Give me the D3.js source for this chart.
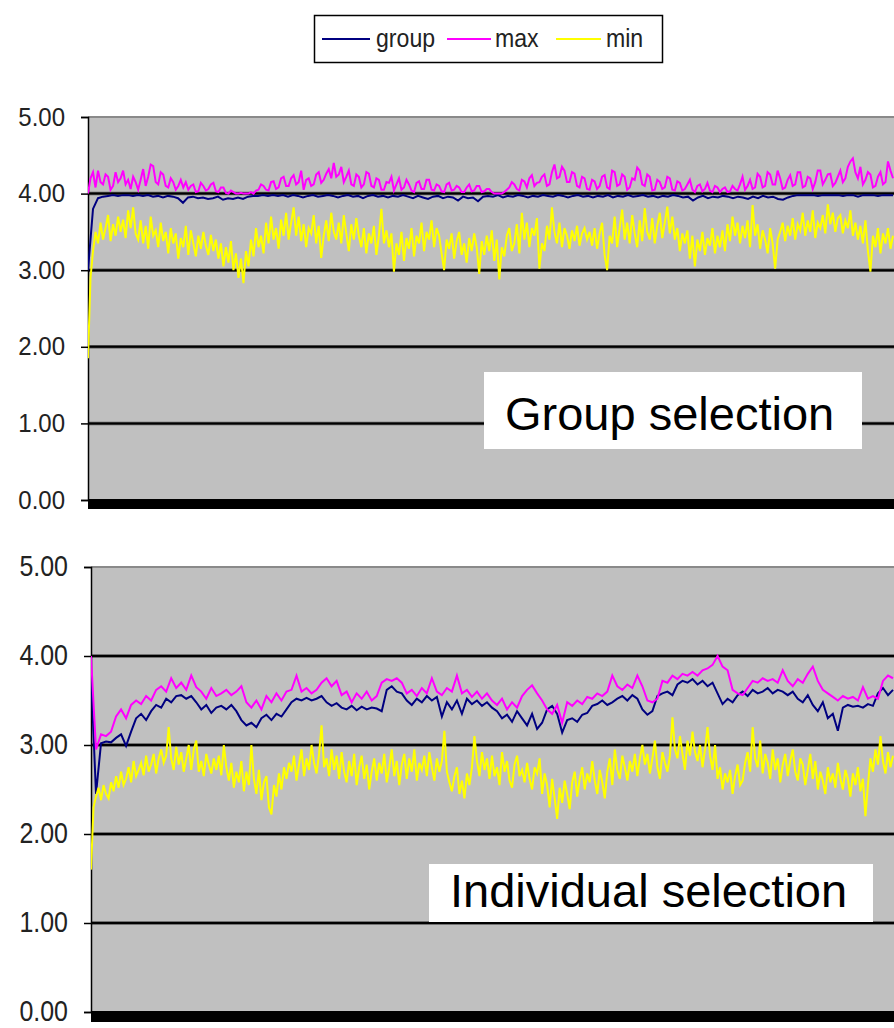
<!DOCTYPE html>
<html><head><meta charset="utf-8">
<script src="https://cdn.jsdelivr.net/npm/d3@7"></script>
<style>body{margin:0;background:#fff}svg{display:block}text{font-family:"Liberation Sans",Arial,sans-serif}</style>
</head><body><svg id="c" width="894" height="1028"></svg>
<script>
// ---- data ----
const seriesNames = ["group","max","min"];
const yTicks = [0,1,2,3,4,5];
const panelLabels = ["Group selection","Individual selection"];

const groupTop = [3.00,3.80,3.94,3.96,3.97,3.98,3.97,3.98,3.98,3.97,
3.98,3.97,3.98,3.96,3.97,3.95,3.97,3.96,3.94,3.88,
3.95,3.96,3.94,3.95,3.93,3.94,3.96,3.92,3.94,3.93,
3.95,3.93,3.96,3.97,3.97,3.98,3.97,3.98,3.97,3.98,
3.96,3.98,3.97,3.95,3.97,3.98,3.96,3.97,3.98,3.97,
3.95,3.97,3.98,3.96,3.97,3.94,3.97,3.98,3.96,3.97,
3.95,3.97,3.96,3.98,3.96,3.94,3.97,3.95,3.93,3.96,
3.97,3.94,3.96,3.95,3.91,3.96,3.94,3.95,3.90,3.96,
3.97,3.96,3.98,3.95,3.97,3.96,3.98,3.97,3.95,3.97,
3.96,3.98,3.97,3.96,3.98,3.97,3.95,3.97,3.98,3.96,
3.97,3.95,3.97,3.96,3.98,3.95,3.97,3.96,3.98,3.96,
3.97,3.98,3.96,3.97,3.95,3.97,3.96,3.98,3.97,3.95,
3.96,3.91,3.95,3.97,3.94,3.96,3.95,3.97,3.96,3.94,
3.96,3.95,3.93,3.96,3.94,3.97,3.95,3.96,3.93,3.92,
3.95,3.97,3.98,3.98,3.98,3.98,3.97,3.98,3.98,3.98,
3.98,3.97,3.98,3.98,3.96,3.98,3.98,3.98,3.97,3.98,3.98,3.98];

const maxTop = [4.00,4.20,4.28,4.08,4.30,4.15,4.12,4.25,4.22,4.05,4.10,4.28,4.15,4.20,4.30,4.12,4.18,4.06,4.22,4.15,
4.05,4.18,4.32,4.10,4.22,4.38,4.36,4.15,4.12,4.28,4.25,4.10,4.08,4.20,4.15,4.05,4.10,4.18,4.08,4.15,
4.05,4.10,4.12,4.02,4.03,4.14,4.10,4.04,4.06,4.12,4.14,4.03,4.02,4.08,4.08,4.01,4.00,4.04,4.02,4.00,
4.00,4.01,4.00,4.00,4.00,4.02,4.00,4.04,4.05,4.12,4.10,4.05,4.04,4.15,4.16,4.06,4.08,4.20,4.22,4.10,
4.10,4.20,4.24,4.12,4.15,4.30,4.05,4.18,4.20,4.10,4.12,4.25,4.28,4.14,4.18,4.26,4.32,4.20,4.40,4.22,
4.25,4.35,4.15,4.22,4.30,4.12,4.10,4.25,4.22,4.08,4.12,4.28,4.26,4.10,4.08,4.20,4.18,4.05,4.05,4.15,
4.14,4.22,4.04,4.12,4.20,4.05,4.08,4.18,4.12,4.04,4.02,4.14,4.16,4.06,4.06,4.18,4.18,4.05,4.04,4.12,
4.10,4.03,4.02,4.12,4.14,4.04,4.05,4.10,4.08,4.02,4.02,4.08,4.12,4.03,4.04,4.10,4.10,4.02,4.03,4.06,
4.06,4.02,4.00,4.00,4.00,4.00,4.02,4.05,4.08,4.15,4.12,4.06,4.04,4.18,4.16,4.08,4.20,4.24,4.10,4.14,
4.15,4.22,4.25,4.10,4.12,4.28,4.38,4.20,4.22,4.35,4.30,4.15,4.15,4.28,4.26,4.10,4.08,4.22,4.20,4.06,
4.05,4.18,4.16,4.06,4.10,4.22,4.24,4.08,4.06,4.30,4.28,4.10,4.12,4.25,4.22,4.05,4.08,4.20,4.18,4.34,
4.30,4.12,4.10,4.25,4.22,4.04,4.05,4.18,4.15,4.06,4.08,4.22,4.20,4.05,4.04,4.16,4.14,4.04,4.06,4.12,
4.18,4.05,4.02,4.10,4.12,4.03,4.06,4.14,4.04,4.02,4.10,4.08,4.02,4.06,4.08,4.02,4.03,4.10,4.06,4.04,
4.12,4.22,4.05,4.10,4.18,4.06,4.08,4.26,4.22,4.08,4.10,4.28,4.25,4.12,4.12,4.30,4.20,4.06,4.08,4.18,
4.24,4.10,4.12,4.28,4.28,4.08,4.10,4.22,4.20,4.06,4.15,4.30,4.30,4.12,4.18,4.25,4.26,4.10,4.14,4.22,
4.30,4.15,4.20,4.35,4.42,4.46,4.28,4.20,4.35,4.12,4.18,4.28,4.25,4.08,4.10,4.22,4.28,4.12,4.15,4.42,
4.30,4.20];

const minTop = [1.85,2.90,3.25,3.50,3.35,3.62,3.40,3.55,3.72,3.38,3.60,3.45,3.70,3.50,3.66,3.42,3.78,3.55,3.82,3.48,
3.40,3.65,3.35,3.58,3.28,3.70,3.45,3.52,3.30,3.62,3.38,3.50,3.22,3.55,3.35,3.48,3.15,3.42,3.30,3.58,
3.20,3.52,3.35,3.18,3.45,3.28,3.50,3.32,3.20,3.46,3.25,3.40,3.15,3.35,3.05,3.30,3.10,3.38,3.00,3.22,
2.90,3.15,2.83,3.25,3.05,3.40,3.18,3.55,3.30,3.45,3.22,3.62,3.35,3.70,3.40,3.55,3.28,3.66,3.45,3.75,
3.40,3.62,3.82,3.45,3.70,3.38,3.60,3.30,3.55,3.48,3.72,3.35,3.58,3.16,3.45,3.65,3.38,3.75,3.50,3.40,
3.62,3.35,3.72,3.48,3.25,3.60,3.40,3.68,3.45,3.30,3.55,3.22,3.48,3.35,3.58,3.20,3.45,3.80,3.35,3.52,
3.30,3.48,2.98,3.35,3.20,3.50,3.12,3.42,3.28,3.55,3.18,3.45,3.35,3.62,3.25,3.50,3.40,3.65,3.30,3.55,
3.45,3.22,3.00,3.40,3.28,3.48,3.15,3.38,3.50,3.20,3.35,3.10,3.42,3.25,3.48,3.30,2.95,3.38,3.20,3.45,
3.25,3.52,3.12,3.40,2.88,3.30,3.18,3.45,3.55,3.25,3.35,3.60,3.22,3.75,3.40,3.62,3.30,3.55,3.45,3.68,
3.02,3.35,3.25,3.58,3.40,3.82,3.50,3.35,3.62,3.30,3.55,3.45,3.28,3.52,3.38,3.58,3.32,3.48,3.55,3.40,
3.50,3.32,3.55,3.28,3.48,3.62,3.20,3.00,3.45,3.35,3.70,3.30,3.55,3.79,3.40,3.62,3.35,3.72,3.48,3.30,
3.65,3.38,3.81,3.50,3.40,3.68,3.35,3.58,3.75,3.42,3.62,3.83,3.48,3.70,3.40,3.55,3.25,3.48,3.35,3.52,
3.15,3.45,3.05,3.40,3.25,3.50,3.20,3.42,3.32,3.55,3.22,3.45,3.30,3.52,3.25,3.60,3.38,3.70,3.45,3.62,
3.35,3.58,3.42,3.65,3.30,3.85,3.45,3.60,3.28,3.52,3.40,3.22,3.55,3.35,3.02,3.40,3.50,3.62,3.38,3.58,
3.45,3.68,3.40,3.60,3.52,3.75,3.45,3.65,3.50,3.78,3.42,3.62,3.55,3.72,3.48,3.86,3.60,3.75,3.50,3.68,
3.72,3.48,3.65,3.55,3.78,3.45,3.62,3.40,3.58,3.35,3.65,3.25,2.98,3.45,3.30,3.55,3.22,3.48,3.35,3.55,
3.28,3.45];

const groupBot = [3.80,2.45,3.02,3.04,3.03,3.08,3.12,2.99,3.15,3.30,
3.35,3.28,3.38,3.45,3.42,3.52,3.48,3.55,3.56,3.52,
3.55,3.48,3.40,3.45,3.36,3.42,3.44,3.40,3.45,3.38,
3.28,3.22,3.25,3.20,3.30,3.34,3.28,3.35,3.32,3.40,
3.48,3.52,3.50,3.53,3.50,3.52,3.55,3.48,3.44,3.47,
3.42,3.40,3.44,3.39,3.43,3.40,3.42,3.41,3.38,3.62,
3.66,3.60,3.58,3.50,3.45,3.52,3.48,3.55,3.50,3.54,
3.32,3.48,3.40,3.50,3.35,3.52,3.46,3.50,3.44,3.48,
3.42,3.38,3.30,3.34,3.26,3.38,3.30,3.22,3.35,3.18,
3.25,3.40,3.44,3.35,3.14,3.28,3.30,3.26,3.34,3.36,
3.44,3.46,3.50,3.45,3.48,3.52,3.55,3.50,3.56,3.52,
3.40,3.34,3.38,3.55,3.58,3.60,3.56,3.68,3.72,3.70,
3.74,3.68,3.72,3.66,3.70,3.58,3.46,3.52,3.48,3.56,
3.60,3.55,3.62,3.58,3.60,3.64,3.58,3.62,3.60,3.56,
3.60,3.52,3.48,3.56,3.45,3.38,3.48,3.30,3.35,3.16,
3.42,3.45,3.43,3.44,3.42,3.46,3.44,3.58,3.64,3.56,3.62];

const maxBot = [4.00,2.95,3.12,3.10,3.15,3.32,3.40,3.30,3.45,3.50,
3.46,3.55,3.50,3.62,3.66,3.60,3.75,3.64,3.70,3.62,
3.78,3.65,3.60,3.52,3.64,3.55,3.58,3.62,3.56,3.60,
3.66,3.48,3.42,3.50,3.40,3.55,3.48,3.58,3.50,3.60,
3.62,3.78,3.60,3.64,3.58,3.62,3.70,3.75,3.66,3.72,
3.56,3.60,3.48,3.58,3.52,3.60,3.50,3.55,3.70,3.74,
3.72,3.75,3.70,3.58,3.62,3.55,3.64,3.58,3.75,3.60,
3.56,3.64,3.60,3.78,3.58,3.62,3.54,3.60,3.52,3.58,
3.50,3.45,3.52,3.40,3.48,3.42,3.55,3.62,3.67,3.58,
3.50,3.40,3.35,3.45,3.25,3.48,3.44,3.50,3.46,3.54,
3.52,3.58,3.55,3.60,3.78,3.66,3.62,3.68,3.64,3.78,
3.66,3.50,3.48,3.52,3.72,3.70,3.78,3.74,3.80,3.78,
3.82,3.78,3.84,3.86,3.90,4.00,3.88,3.84,3.62,3.58,
3.56,3.64,3.72,3.70,3.75,3.72,3.74,3.70,3.84,3.72,
3.66,3.74,3.70,3.80,3.88,3.72,3.62,3.58,3.54,3.50,
3.55,3.52,3.54,3.50,3.65,3.52,3.55,3.52,3.72,3.78,3.75];

const minBot = [1.60,2.30,2.42,2.52,2.38,2.55,2.45,2.40,2.58,2.48,2.65,2.52,2.70,2.55,2.62,2.75,2.58,2.82,2.65,2.72,
2.80,2.66,2.88,2.70,2.78,2.90,2.68,2.85,2.95,2.80,2.88,3.20,2.85,2.72,2.98,2.78,2.92,2.70,2.85,3.00,
2.72,2.95,3.05,2.70,2.82,2.65,2.90,2.78,2.68,2.85,2.72,2.88,2.66,3.00,2.75,2.60,2.80,2.52,2.70,2.58,
2.82,2.48,2.70,2.55,3.00,2.62,2.45,2.72,2.38,2.58,2.65,2.30,2.22,2.55,2.42,2.68,2.50,2.75,2.62,2.80,
2.70,2.88,2.60,2.78,2.95,2.65,2.85,2.72,3.00,2.80,2.68,2.90,3.22,2.75,2.85,2.65,2.95,2.72,2.88,2.62,
2.92,2.70,2.58,2.82,2.65,2.90,2.55,2.75,2.88,2.62,2.78,2.50,2.70,2.85,2.60,2.80,2.68,2.90,2.58,2.75,
2.95,2.65,2.82,2.55,2.78,2.90,2.62,2.85,2.70,2.95,2.60,2.80,2.72,2.88,2.65,2.92,2.75,2.60,2.85,2.70,
2.82,3.16,2.70,2.58,2.48,2.65,2.75,2.45,2.60,2.40,2.68,2.55,2.75,3.10,2.82,2.65,2.92,2.72,2.85,2.62,
2.88,2.65,2.75,2.55,2.92,2.70,2.82,2.60,2.52,2.78,2.88,2.65,2.72,2.58,2.80,2.62,2.50,2.75,2.68,2.85,
2.45,2.68,2.55,2.30,2.62,2.40,2.17,2.52,2.35,2.60,2.45,2.28,2.58,2.70,2.42,2.62,2.75,2.50,2.68,2.58,
2.82,2.60,2.45,2.72,2.58,2.40,2.70,2.85,2.55,2.95,2.72,2.62,2.88,2.75,2.60,2.82,2.70,2.90,2.65,2.85,
3.00,2.78,2.90,2.68,2.85,3.05,2.75,2.62,2.92,2.80,2.70,2.88,3.31,2.95,2.85,3.10,2.90,2.72,3.05,2.88,
3.15,2.92,2.82,3.00,2.75,2.95,3.20,2.88,2.72,3.00,2.62,2.75,2.50,2.68,2.58,2.72,2.45,2.65,2.78,2.55,
2.60,2.80,2.92,2.70,3.20,2.85,2.75,3.05,2.68,2.90,2.80,2.62,2.95,2.72,2.85,2.58,2.78,2.90,2.65,2.82,
2.95,2.70,2.60,2.85,2.78,2.55,2.72,2.90,2.62,2.82,2.50,2.70,2.60,2.45,2.75,2.58,2.68,2.52,2.80,2.62,
2.50,2.72,2.62,2.42,2.68,2.55,2.75,2.48,2.62,2.20,2.55,2.85,2.70,2.95,2.78,3.10,2.82,2.68,2.92,2.75,
2.88];

// ---- drawing ----
const colors = {group:"#000080", max:"#ff00ff", min:"#ffff00"};
const svg = d3.select("#c");

const panels = [
  {left:88, right:894, top:117, bottom:500, barH:10, data:{group:groupTop,max:maxTop,min:minTop},
   label:panelLabels[0], box:{x:484,y:372,w:378,h:77}, tx:505, ty:430, lsy:1.05, lsx:1.0},
  {left:91, right:894, top:567, bottom:1012, barH:11, data:{group:groupBot,max:maxBot,min:minBot},
   label:panelLabels[1], box:{x:429,y:864,w:444,h:58}, tx:450, ty:907, lsy:1.22, lsx:1.04}
];

panels.forEach((p,pi)=>{
  const g = svg.append("g");
  const y = d3.scaleLinear().domain([0,5]).range([p.bottom, p.top]);

  g.append("rect").attr("x",p.left).attr("y",p.top).attr("width",p.right-p.left).attr("height",p.bottom-p.top).attr("fill","#c0c0c0");
  g.append("line").attr("x1",p.left).attr("x2",p.right).attr("y1",p.top).attr("y2",p.top).attr("stroke","#8a8a8a").attr("stroke-width",2);
  const inner = yTicks.filter(t=>t>0&&t<5);
  g.selectAll(".grid").data(inner).enter().append("line")
    .attr("x1",p.left).attr("x2",p.right).attr("y1",d=>y(d)).attr("y2",d=>y(d))
    .attr("stroke","#5a5a5a").attr("stroke-width",3.5);
  g.selectAll(".grid2").data(inner).enter().append("line")
    .attr("x1",p.left).attr("x2",p.right).attr("y1",d=>y(d)).attr("y2",d=>y(d))
    .attr("stroke","#000").attr("stroke-width",2);

  const ax = d3.axisLeft(y).tickValues(yTicks).tickSize(7).tickFormat(d3.format(".2f"));
  const axg = g.append("g").attr("transform",`translate(${p.left},0)`).call(ax);
  axg.select(".domain").attr("stroke","#000").attr("stroke-width",1.5);
  axg.selectAll(".tick line").attr("stroke","#000").attr("stroke-width",1.5);
  axg.selectAll(".tick text").remove();
  yTicks.forEach(t=>{
    g.append("text").text(d3.format(".2f")(t))
      .attr("text-anchor","end").attr("font-size",24).attr("fill","#222")
      .attr("transform",`translate(${p.left-23},${y(t)+8.5}) scale(${p.lsx},${p.lsy})`);
  });

  const clipId = "clip"+pi;
  svg.append("clipPath").attr("id",clipId).append("rect").attr("x",p.left).attr("y",p.top).attr("width",p.right-p.left).attr("height",p.bottom-p.top);
  seriesNames.forEach(s=>{
    const arr = p.data[s];
    const x = d3.scaleLinear().domain([0,arr.length-1]).range([p.left, p.right-1]);
    const line = d3.line().x((d,i)=>x(i)).y(d=>y(d));
    g.append("path").datum(arr).attr("d",line).attr("fill","none")
      .attr("stroke",colors[s]).attr("stroke-width",2).attr("stroke-linejoin","miter")
      .attr("clip-path",`url(#${clipId})`);
  });

  g.append("rect").attr("x",p.left).attr("y",p.bottom-1).attr("width",p.right-p.left).attr("height",p.barH).attr("fill","#000");

  g.append("rect").attr("x",p.box.x).attr("y",p.box.y).attr("width",p.box.w).attr("height",p.box.h).attr("fill","#fff");
  g.append("text").text(p.label).attr("x",p.tx).attr("y",p.ty).attr("font-size",47).attr("fill","#000");
});

// legend
const leg = svg.append("g");
leg.append("rect").attr("x",314.5).attr("y",15.5).attr("width",348).attr("height",47).attr("fill","#fff").attr("stroke","#000").attr("stroke-width",1.5);
const legItems = [{k:"group",x1:322,x2:370,tx:376},{k:"max",x1:447,x2:491,tx:495},{k:"min",x1:556,x2:601,tx:606}];
legItems.forEach(it=>{
  leg.append("line").attr("x1",it.x1).attr("x2",it.x2).attr("y1",39).attr("y2",39).attr("stroke",colors[it.k]).attr("stroke-width",2);
  leg.append("text").text(it.k).attr("font-size",22).attr("fill","#222")
    .attr("transform",`translate(${it.tx},47) scale(1.05,1.2)`);
});
</script></body></html>
